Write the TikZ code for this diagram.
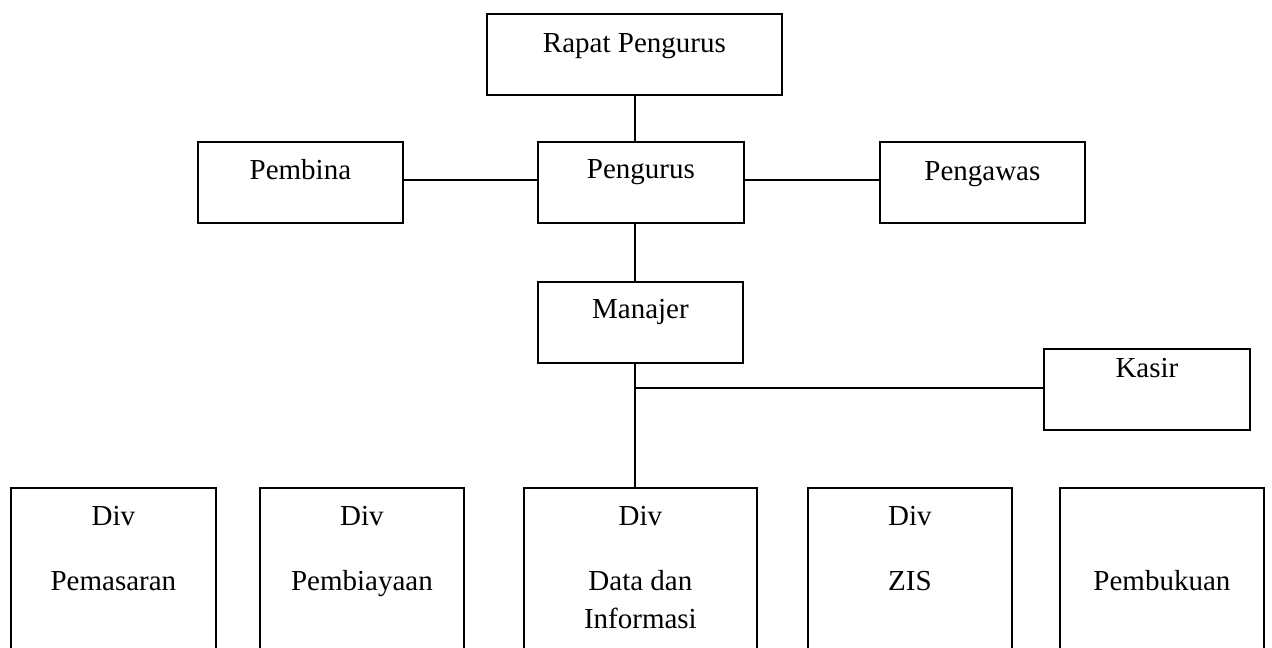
\documentclass[tikz,border=0pt]{standalone}
\usepackage{fontspec}
\setmainfont{Liberation Serif}
\usetikzlibrary{calc}
\begin{document}
\begin{tikzpicture}[x=1pt,y=-1pt,
  box/.style={draw=black,line width=1.8pt,rectangle,inner sep=0pt,anchor=north west},
  lbl/.style={anchor=base,inner sep=0pt,font=\fontsize{29}{35}\selectfont},
  conn/.style={draw=black,line width=1.8pt}]
\clip (0,0) rectangle (1272,648);
\fill[white] (0,0) rectangle (1272,648);
% boxes
\node[box,minimum width=295pt,minimum height=81pt] (rapat) at (486,13) {};
\node[box,minimum width=206pt,minimum height=81pt] (pengurus) at (537,141) {};
\node[box,minimum width=205pt,minimum height=81pt] (pembina) at (197,141) {};
\node[box,minimum width=205pt,minimum height=81pt] (pengawas) at (879,141) {};
\node[box,minimum width=205pt,minimum height=81pt] (manajer) at (537,281) {};
\node[box,minimum width=206pt,minimum height=81pt] (kasir) at (1043,348) {};
\node[box,minimum width=205pt,minimum height=200pt] (d1) at (10,487) {};
\node[box,minimum width=204pt,minimum height=200pt] (d2) at (259,487) {};
\node[box,minimum width=233pt,minimum height=200pt] (d3) at (523,487) {};
\node[box,minimum width=204pt,minimum height=200pt] (d4) at (807,487) {};
\node[box,minimum width=204pt,minimum height=200pt] (d5) at (1059,487) {};
% labels
\node[lbl] (trapat) at ($(rapat.north)+(0,39)$) {Rapat Pengurus};
\node[lbl] (tpengurus) at ($(pengurus.north)+(0,37)$) {Pengurus};
\node[lbl] (tpembina) at ($(pembina.north)+(0,38)$) {Pembina};
\node[lbl] (tpengawas) at ($(pengawas.north)+(0,39)$) {Pengawas};
\node[lbl] (tmanajer) at ($(manajer.north)+(0,37)$) {Manajer};
\node[lbl] (tkasir) at ($(kasir.north)+(0,29)$) {Kasir};
\node[lbl] (t1a) at ($(d1.north)+(0,38)$) {Div};
\node[lbl] (t1b) at ($(d1.north)+(0,103)$) {Pemasaran};
\node[lbl] (t2a) at ($(d2.north)+(0,38)$) {Div};
\node[lbl] (t2b) at ($(d2.north)+(0,103)$) {Pembiayaan};
\node[lbl] (t3a) at ($(d3.north)+(0,38)$) {Div};
\node[lbl] (t3b) at ($(d3.north)+(0,103)$) {Data dan};
\node[lbl] (t3c) at ($(d3.north)+(0,141)$) {Informasi};
\node[lbl] (t4a) at ($(d4.north)+(0,38)$) {Div};
\node[lbl] (t4b) at ($(d4.north)+(0,103)$) {ZIS};
\node[lbl] (t5b) at ($(d5.north)+(0,103)$) {Pembukuan};
% spine
\coordinate (sx) at (635,0);
\coordinate (hy) at (0,180);
\coordinate (ky) at (0,388);
% connectors
\draw[conn] (rapat.south -| sx) -- (pengurus.north -| sx);
\draw[conn] (pengurus.south -| sx) -- (manajer.north -| sx);
\draw[conn] (manajer.south -| sx) -- (d3.north -| sx);
\draw[conn] (pembina.east |- hy) -- (pengurus.west |- hy);
\draw[conn] (pengurus.east |- hy) -- (pengawas.west |- hy);
\draw[conn] (sx |- ky) -- (kasir.west |- ky);
\end{tikzpicture}
\end{document}
